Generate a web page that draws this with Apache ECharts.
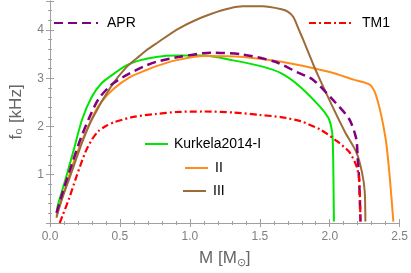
<!DOCTYPE html>
<html>
<head>
<meta charset="utf-8">
<script src="https://cdn.jsdelivr.net/npm/echarts@6/dist/echarts.min.js"></script>
<style>html,body{margin:0;padding:0;background:#fff}#c{width:411px;height:273px}</style>
</head>
<body>
<div id="c"></div>
<script>
// Kurkela2014-I (green)
const k1M = [0.05, 0.057, 0.092, 0.126, 0.172, 0.23, 0.30, 0.37, 0.46, 0.55, 0.64, 0.76, 0.90, 1.10, 1.31, 1.52, 1.655, 1.79, 1.93, 1.99, 2.01, 2.02, 2.025, 2.03];
const k1F = [0.27, 0.38, 0.72, 1.06, 1.54, 2.15, 2.62, 2.90, 3.10, 3.27, 3.37, 3.44, 3.47, 3.47, 3.37, 3.24, 3.10, 2.82, 2.41, 2.18, 2.00, 1.80, 1.27, 0.03];
// II (orange)
const k2M = [0.046, 0.08, 0.138, 0.20, 0.264, 0.345, 0.46, 0.575, 0.69, 0.76, 0.897, 1.10, 1.38, 1.655, 2.00, 2.17, 2.29, 2.34, 2.40, 2.43, 2.455];
const k2F = [0.15, 0.45, 1.00, 1.50, 1.94, 2.42, 2.79, 3.03, 3.17, 3.25, 3.37, 3.46, 3.44, 3.34, 3.13, 2.97, 2.86, 2.56, 1.74, 0.92, 0.03];
// III (brown)
const k3M = [0.046, 0.08, 0.138, 0.23, 0.30, 0.437, 0.55, 0.644, 0.69, 0.76, 0.92, 1.15, 1.38, 1.52, 1.655, 1.70, 1.74, 1.78, 1.81, 1.88, 1.93, 2.02, 2.11, 2.19, 2.23, 2.25, 2.255];
const k3F = [0.11, 0.45, 0.92, 1.67, 2.15, 2.83, 3.24, 3.47, 3.58, 3.72, 4.03, 4.33, 4.49, 4.49, 4.43, 4.38, 4.27, 4.00, 3.80, 3.30, 2.97, 2.41, 1.88, 1.47, 1.06, 0.66, 0.03];
// APR (purple dashed)
const aprM = [0.046, 0.057, 0.092, 0.138, 0.218, 0.276, 0.345, 0.437, 0.55, 0.667, 0.76, 0.92, 1.15, 1.38, 1.61, 1.77, 1.88, 2.02, 2.14, 2.19, 2.20, 2.21, 2.22];
const aprF = [0.21, 0.31, 0.65, 1.06, 1.74, 2.15, 2.56, 2.86, 3.07, 3.24, 3.34, 3.44, 3.53, 3.49, 3.34, 3.12, 2.97, 2.56, 2.15, 1.74, 1.33, 0.92, 0.03];
// TM1 (red dash-dot)
const tm1M = [0.069, 0.092, 0.138, 0.184, 0.253, 0.30, 0.345, 0.40, 0.46, 0.598, 0.76, 0.90, 1.10, 1.31, 1.50, 1.66, 1.79, 1.93, 2.05, 2.14, 2.19, 2.21, 2.22];
const tm1F = [0.00, 0.17, 0.52, 0.92, 1.47, 1.73, 1.90, 2.01, 2.09, 2.20, 2.26, 2.30, 2.31, 2.29, 2.24, 2.19, 2.11, 1.94, 1.70, 1.47, 1.19, 0.92, 0.03];

const xTicks = [0, 0.5, 1.0, 1.5, 2.0, 2.5];
const yTicks = [1, 2, 3, 4];

const zip = (a, b) => a.map((v, i) => [v, b[i]]);
const FONT = 'Liberation Sans, Arial, sans-serif';
const frameColor = '#a0a0a0';
const labelColor = '#808080';

function baseAxis(extra) {
  return Object.assign({
    type: 'value',
    axisLine: {show: true, lineStyle: {color: frameColor, width: 1}},
    axisTick: {show: true, inside: true, length: 4, lineStyle: {color: frameColor}},
    minorTick: {show: true, splitNumber: 5, length: 2, lineStyle: {color: frameColor}},
    splitLine: {show: false},
    minorSplitLine: {show: false}
  }, extra);
}

function legendAt(name, left, top, gap) {
  return {data: [name], left: left, top: top, padding: 0,
    itemWidth: name === 'APR' || name === 'TM1' ? 44 : 23, itemHeight: 14,
    itemStyle: {opacity: 0},
    textStyle: {fontSize: 14, color: '#000', fontFamily: FONT, padding: [0, 0, 0, gap]}};
}

const chart = echarts.init(document.getElementById('c'), null, {renderer: 'canvas'});
const option = {
  animation: false,
  backgroundColor: '#fff',
  textStyle: {fontFamily: FONT},
  grid: {left: 40, right: 8, top: 1, bottom: 48, containLabel: false},
  xAxis: [
    baseAxis({min: 0, max: 2.5, interval: 0.5, position: 'bottom',
      axisLabel: {color: labelColor, fontSize: 12, fontFamily: FONT, margin: 8,
        formatter: v => xTicks.some(t => Math.abs(t - v) < 1e-6) ? v.toFixed(1) : ''},
      name: 'M [M{sub|⊙}]', nameLocation: 'middle', nameGap: 25,
      nameTextStyle: {color: '#666', fontSize: 17, fontFamily: FONT, verticalAlign: 'top',
        rich: {sub: {fontSize: 11, color: '#666', fontFamily: FONT, padding: [9, 0, 0, 0]}}}
    }),
    baseAxis({min: 0, max: 2.5, interval: 0.5, position: 'top', axisLabel: {show: false}})
  ],
  yAxis: [
    baseAxis({min: 0, max: 4.6, interval: 1, position: 'left',
      axisLabel: {color: labelColor, fontSize: 12, fontFamily: FONT, margin: 6,
        formatter: v => yTicks.some(t => Math.abs(t - v) < 1e-6) ? String(v) : ''},
      name: 'f₀ [kHz]', nameLocation: 'middle', nameGap: 25, nameRotate: 90,
      nameTextStyle: {color: '#666', fontSize: 17, fontFamily: FONT}
    }),
    baseAxis({min: 0, max: 4.6, interval: 1, position: 'right', axisLabel: {show: false}})
  ],
  legend: [
    legendAt('APR', 53, 16, 4),
    legendAt('TM1', 308, 16, 4),
    legendAt('Kurkela2014-I', 144, 137, 1),
    legendAt('II', 184, 161, 2),
    legendAt('III', 182, 184, 2)
  ],
  series: [
    {name: 'Kurkela2014-I', type: 'line', data: zip(k1M, k1F), symbol: 'none', smooth: 0.25,
      lineStyle: {color: '#00e600', width: 2}, itemStyle: {color: '#00e600'}},
    {name: 'II', type: 'line', data: zip(k2M, k2F), symbol: 'none', smooth: 0.25,
      lineStyle: {color: '#ff8c1a', width: 2}, itemStyle: {color: '#ff8c1a'}},
    {name: 'III', type: 'line', data: zip(k3M, k3F), symbol: 'none', smooth: 0.25,
      lineStyle: {color: '#9c6b38', width: 2}, itemStyle: {color: '#9c6b38'}},
    {name: 'APR', type: 'line', data: zip(aprM, aprF), symbol: 'none', smooth: 0.25,
      lineStyle: {color: '#800080', width: 2.5, type: [9, 5]}, itemStyle: {color: '#800080'}},
    {name: 'TM1', type: 'line', data: zip(tm1M, tm1F), symbol: 'none', smooth: 0.25,
      lineStyle: {color: '#ff0000', width: 2.2, type: [7, 3, 2, 3]}, itemStyle: {color: '#ff0000'}}
  ]
};
chart.setOption(option);
</script>
</body>
</html>
